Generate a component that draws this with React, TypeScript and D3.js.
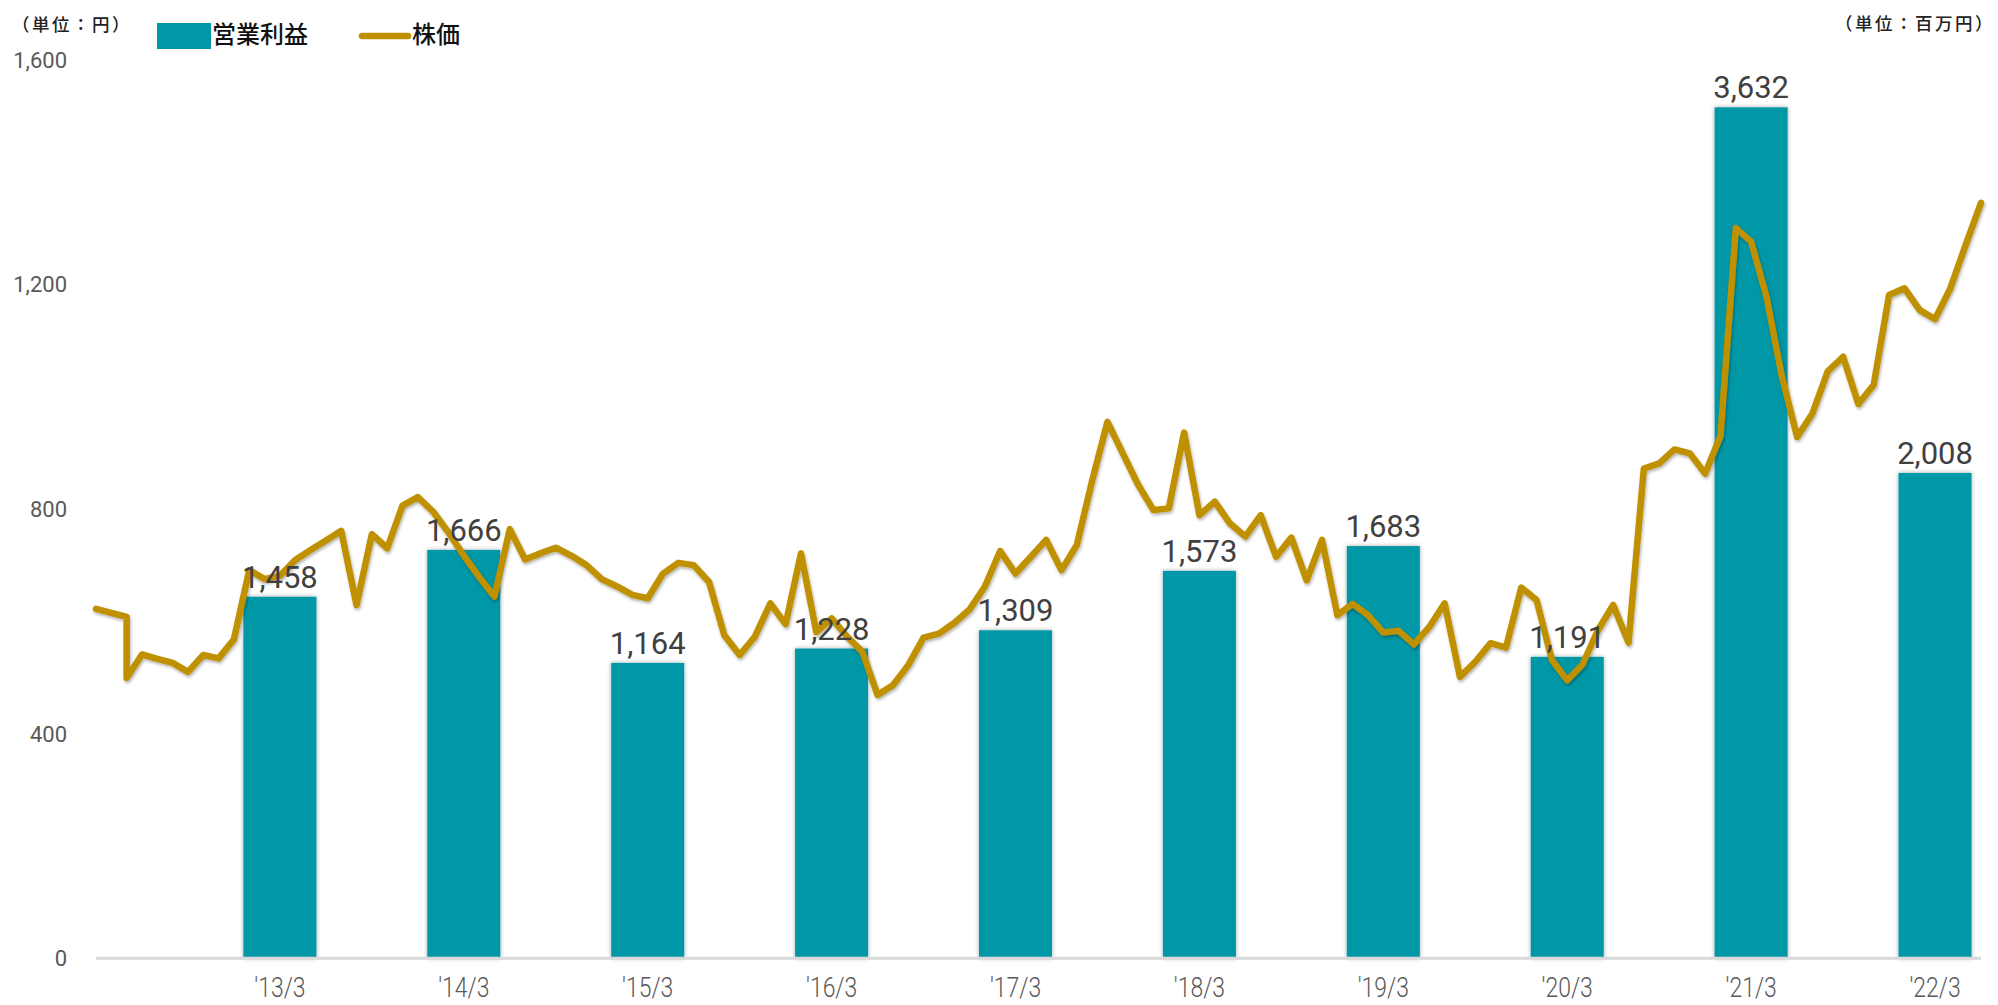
import * as d3 from 'd3';

// 営業利益 (百万円), one bar per fiscal year end
const fiscalYears = ["'13/3", "'14/3", "'15/3", "'16/3", "'17/3", "'18/3", "'19/3", "'20/3", "'21/3", "'22/3"];
const operatingProfit = [1458, 1666, 1164, 1228, 1309, 1573, 1683, 1191, 3632, 2008];

// left axis ticks (円)
const priceTicks = [0, 400, 800, 1200, 1600];

// 株価, month-end close (円)
const price: [string, number][] = [
  ['2012/03', 622], ['2012/04', 615], ['2012/05', 608], ['2012/05', 499], ['2012/06', 541], ['2012/07', 533],
  ['2012/08', 526], ['2012/09', 510], ['2012/10', 540], ['2012/11', 534], ['2012/12', 568],
  ['2013/01', 691], ['2013/02', 675], ['2013/03', 681], ['2013/04', 709], ['2013/05', 727], ['2013/06', 744],
  ['2013/07', 761], ['2013/08', 629], ['2013/09', 755], ['2013/10', 730], ['2013/11', 806], ['2013/12', 821],
  ['2014/01', 795], ['2014/02', 758], ['2014/03', 717], ['2014/04', 679], ['2014/05', 644], ['2014/06', 764],
  ['2014/07', 710], ['2014/08', 721], ['2014/09', 731], ['2014/10', 717], ['2014/11', 700], ['2014/12', 675],
  ['2015/01', 662], ['2015/02', 647], ['2015/03', 641], ['2015/04', 685], ['2015/05', 704], ['2015/06', 700],
  ['2015/07', 670], ['2015/08', 575], ['2015/09', 540], ['2015/10', 573], ['2015/11', 632], ['2015/12', 595],
  ['2016/01', 721], ['2016/02', 581], ['2016/03', 605], ['2016/04', 573], ['2016/05', 546], ['2016/06', 469],
  ['2016/07', 486], ['2016/08', 522], ['2016/09', 571], ['2016/10', 578], ['2016/11', 597], ['2016/12', 621],
  ['2017/01', 662], ['2017/02', 725], ['2017/03', 685], ['2017/04', 715], ['2017/05', 745], ['2017/06', 691],
  ['2017/07', 736], ['2017/08', 850], ['2017/09', 955], ['2017/10', 899], ['2017/11', 843], ['2017/12', 798],
  ['2018/01', 801], ['2018/02', 936], ['2018/03', 789], ['2018/04', 813], ['2018/05', 774], ['2018/06', 751],
  ['2018/07', 789], ['2018/08', 715], ['2018/09', 749], ['2018/10', 673], ['2018/11', 745], ['2018/12', 611],
  ['2019/01', 631], ['2019/02', 611], ['2019/03', 580], ['2019/04', 583], ['2019/05', 559], ['2019/06', 590],
  ['2019/07', 632], ['2019/08', 501], ['2019/09', 528], ['2019/10', 561], ['2019/11', 553], ['2019/12', 660],
  ['2020/01', 638], ['2020/02', 531], ['2020/03', 495], ['2020/04', 523], ['2020/05', 584], ['2020/06', 629],
  ['2020/07', 562], ['2020/08', 872], ['2020/09', 881], ['2020/10', 906], ['2020/11', 899], ['2020/12', 863],
  ['2021/01', 930], ['2021/02', 1300], ['2021/03', 1276], ['2021/04', 1178], ['2021/05', 1037], ['2021/06', 928],
  ['2021/07', 970], ['2021/08', 1045], ['2021/09', 1071], ['2021/10', 987], ['2021/11', 1021], ['2021/12', 1181],
  ['2022/01', 1193], ['2022/02', 1154], ['2022/03', 1138], ['2022/04', 1193], ['2022/05', 1270], ['2022/06', 1345],
];

const W = 1998;
const H = 1005;
const BAR_COLOR = '#0097A7';
const LINE_COLOR = '#BF9000';

const toMonth = (s: string) => {
  const [y, m] = s.split('/').map(Number);
  return y * 12 + (m - 1);
};
const fyToMonth = (label: string) => {
  const [y, m] = label.replace("'", '').split('/').map(Number);
  return (2000 + y) * 12 + (m - 1);
};

export default function App() {
  const months = price.map(d => toMonth(d[0]));
  const x = d3.scaleLinear()
    .domain([d3.min(months) as number, d3.max(months) as number])
    .range([96, 1981]);
  const y = d3.scaleLinear().domain([0, 1600]).range([958.3, 59.6]);
  // right (hidden) axis for the bars, 百万円
  const yBar = d3.scaleLinear().domain([-148, 3844]).range([958.3, 59.6]);

  const line = d3.line<[string, number]>()
    .x(d => x(toMonth(d[0])))
    .y(d => y(d[1]));

  const barW = 73;
  const fmt = d3.format(',');
  const unitStyle = { fontFamily: "'Noto Sans CJK JP'", fontSize: 17.5, fontWeight: 500, letterSpacing: 2.5 };

  return (
    <svg width={W} height={H} style={{ position: 'absolute', left: 0, top: 0, background: '#fff' }}>
      <defs>
        <filter id="barShadow" x="-20%" y="-5%" width="140%" height="110%">
          <feDropShadow dx="0" dy="0" stdDeviation="2" floodColor="#000" floodOpacity="0.35" />
        </filter>
        <filter id="lineShadow" x="-5%" y="-5%" width="110%" height="115%">
          <feDropShadow dx="1" dy="2" stdDeviation="1.5" floodColor="#000" floodOpacity="0.3" />
        </filter>
      </defs>

      {/* unit labels */}
      <text x={12} y={31} style={unitStyle} fill="#222">（単位：円）</text>
      <text x={1995} y={30} textAnchor="end" style={unitStyle} fill="#222">（単位：百万円）</text>

      {/* legend */}
      <rect x={157} y={23} width={54} height={26} fill={BAR_COLOR} />
      <text x={212} y={43} fontFamily="'Noto Sans CJK JP'" fontSize={24} fontWeight={500} fill="#111">営業利益</text>
      <line x1={362} x2={408} y1={36} y2={36} stroke={LINE_COLOR} strokeWidth={6.5} strokeLinecap="round" />
      <text x={412} y={43} fontFamily="'Noto Sans CJK JP'" fontSize={24} fontWeight={500} fill="#111">株価</text>

      {/* left axis labels */}
      {priceTicks.map(t => (
        <text key={t} x={67} y={y(t)} dy="0.36em" textAnchor="end"
          fontFamily="Roboto" fontSize={22} fill="#595959">{fmt(t)}</text>
      ))}

      {/* bars */}
      <g filter="url(#barShadow)">
        {operatingProfit.map((v, i) => {
          const cx = x(fyToMonth(fiscalYears[i]));
          return (
            <rect key={i} x={cx - barW / 2} y={yBar(v)} width={barW}
              height={y(0) - yBar(v)} fill={BAR_COLOR} />
          );
        })}
      </g>

      {/* category axis */}
      <line x1={x.range()[0]} x2={x.range()[1]} y1={y(0)} y2={y(0)} stroke="#D9D9D9" strokeWidth={3} />
      {fiscalYears.map(f => {
        const cx = x(fyToMonth(f));
        return (
          <text key={f} transform={`translate(${cx},997) scale(0.82,1)`} textAnchor="middle"
            fontFamily="Roboto" fontWeight={300} fontSize={28} fill="#595959">{f}</text>
        );
      })}

      {/* price line */}
      <path d={line(price) || ''} fill="none" stroke={LINE_COLOR} strokeWidth={6.5}
        strokeLinejoin="round" strokeLinecap="round" filter="url(#lineShadow)" />

      {/* bar value labels */}
      {operatingProfit.map((v, i) => (
        <text key={i} x={x(fyToMonth(fiscalYears[i]))} y={yBar(v) - 9} textAnchor="middle"
          fontFamily="Roboto" fontSize={31} fill="#404040">{fmt(v)}</text>
      ))}
    </svg>
  );
}
